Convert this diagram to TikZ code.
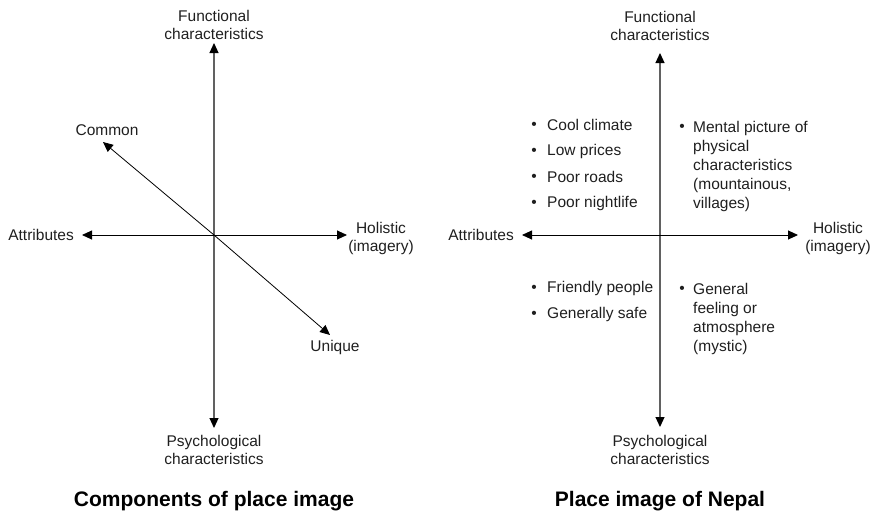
\documentclass[tikz,border=0pt]{standalone}
\usepackage{fontspec}
\setmainfont{Liberation Sans}
\usetikzlibrary{arrows.meta}
\begin{document}
\begin{tikzpicture}[x=1pt,y=-1pt,
  lbl/.style={font=\fontsize{15.5}{18}\selectfont, align=center, inner sep=0pt, text=black!88},
  ttl/.style={font=\fontsize{21}{24}\selectfont\bfseries, inner sep=0pt},
  ax/.style={line width=0.9pt, draw=black, {Triangle[length=10pt,width=9pt]}-{Triangle[length=10pt,width=9pt]}},
  vax/.style={line width=1.1pt, draw=black!62, {Triangle[length=10pt,width=9pt,color=black]}-{Triangle[length=10pt,width=9pt,color=black]}},
  oneway/.style={line width=0.8pt, draw=black, -{Triangle[length=10pt,width=9pt]}},
  bul/.style={font=\fontsize{15.5}{18}\selectfont, inner sep=0pt, text=black!88},
  item/.style={font=\fontsize{15.5}{18}\selectfont, inner sep=0pt, anchor=west, text=black!88},
  mitem/.style={font=\fontsize{15.5}{19}\selectfont, inner sep=0pt, anchor=north west, align=left, text=black!88}
]
\useasboundingbox (0,0) rectangle (872,514);

% ---------- Left diagram ----------
\coordinate (L-top) at (214,43);
\coordinate (L-bot) at (214,428);
\coordinate (L-left) at (82,235);
\coordinate (L-right) at (347,235);
\coordinate (L-com) at (103,142);
\coordinate (L-uni) at (330,335);
\coordinate (L-o) at (214,235);

\draw[vax] (L-bot) -- (L-top);
\draw[ax] (L-left) -- (L-right);
\draw[oneway] (L-o) -- (L-com);
\draw[oneway] (L-o) -- (L-uni);

\node[lbl] (L-func) at (214,25) {Functional\\characteristics};
\node[lbl] (L-common) at (107,130) {Common};
\node[lbl, anchor=east] (L-attr) at (74,235) {Attributes};
\node[lbl] (L-hol) at (381,238) {Holistic\\(imagery)};
\node[lbl] (L-unique) at (335,347) {Unique};
\node[lbl] (L-psy) at (214,450) {Psychological\\characteristics};
\node[ttl] (L-title) at (214,501) {Components of place image};

% ---------- Right diagram ----------
\coordinate (R-top) at (660,53);
\coordinate (R-bot) at (660,427);
\coordinate (R-left) at (522,235);
\coordinate (R-right) at (798,235);

\draw[vax] (R-bot) -- (R-top);
\draw[ax] (R-left) -- (R-right);

\node[lbl] (R-func) at (660,26) {Functional\\characteristics};
\node[lbl, anchor=east] (R-attr) at (514,235) {Attributes};
\node[lbl] (R-hol) at (838,238) {Holistic\\(imagery)};
\node[lbl] (R-psy) at (660,450) {Psychological\\characteristics};
\node[ttl] (R-title) at (660,501) {Place image of Nepal};

% upper-left quadrant bullets
\node[bul] (b1) at (534,126) {•};
\node[item] (t1) at (547,125) {Cool climate};
\node[bul] (b2) at (534,152) {•};
\node[item] (t2) at (547,151) {Low prices};
\node[bul] (b3) at (534,178) {•};
\node[item] (t3) at (547,177) {Poor roads};
\node[bul] (b4) at (534,204) {•};
\node[item] (t4) at (547,203) {Poor nightlife};

% upper-right quadrant
\node[bul] (b5) at (682,128) {•};
\node[mitem] (t5) at (693,121.5) {Mental picture of\\physical\\characteristics\\(mountainous,\\villages)};

% lower-left quadrant
\node[bul] (b6) at (534,289) {•};
\node[item] (t6) at (547,288) {Friendly people};
\node[bul] (b7) at (534,315) {•};
\node[item] (t7) at (547,314) {Generally safe};

% lower-right quadrant
\node[bul] (b8) at (682,290) {•};
\node[mitem, font=\fontsize{15.5}{18.7}\selectfont] (t8) at (693,283.5) {General\\feeling or\\atmosphere\\(mystic)};
\end{tikzpicture}
\end{document}
